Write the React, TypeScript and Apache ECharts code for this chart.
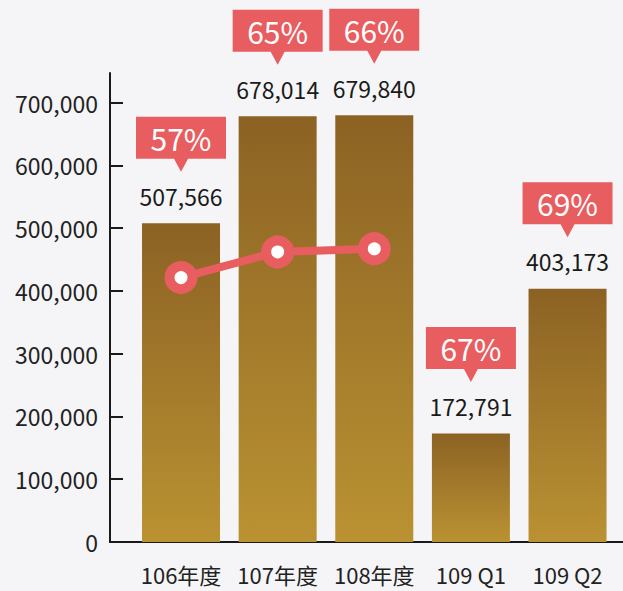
import React, { useEffect, useRef } from "react";
import * as echarts from "echarts";

const categories = ["106年度", "107年度", "108年度", "109 Q1", "109 Q2"];
const amounts = [507566, 678014, 679840, 172791, 403173];
const percents = [57, 65, 66, 67, 69];
const lineCount = 3; // the trend line covers the three full years
const yTicks = [0, 100000, 200000, 300000, 400000, 500000, 600000, 700000];

const RED = "#E85D5F";
const FONT = "'Noto Sans CJK TC', 'Noto Sans', sans-serif";

export default function App() {
  const ref = useRef<HTMLDivElement>(null);
  useEffect(() => {
    document.body.style.margin = "0";
    const chart = echarts.init(ref.current!, null, { renderer: "svg" });
    const fmt = (v: number) => v.toLocaleString("en-US");
    chart.setOption({
      animation: false,
      backgroundColor: "#F5F5F7",
      textStyle: { fontFamily: FONT },
      grid: { left: 110, right: 0, top: 73, bottom: 49 },
      xAxis: {
        type: "value",
        min: -0.735,
        max: 4.574,
        axisLine: { show: true, onZero: false, lineStyle: { color: "#1a1a1a", width: 2 } },
        axisTick: { show: false },
        splitLine: { show: false },
        axisLabel: {
          customValues: categories.map((_, i) => i),
          formatter: (v: number) => categories[Math.round(v)] ?? "",
          fontSize: 22,
          color: "#222",
          margin: 21,
          fontFamily: FONT,
        },
      },
      yAxis: [
        {
          type: "value",
          min: 0,
          max: 747000,
          axisLine: { show: true, onZero: false, lineStyle: { color: "#1a1a1a", width: 2 } },
          axisTick: {
            show: true,
            inside: true,
            length: 13,
            lineStyle: { color: "#1a1a1a", width: 2 },
            customValues: yTicks,
          },
          splitLine: { show: false },
          axisLabel: {
            customValues: yTicks,
            formatter: (v: number) => fmt(v),
            fontSize: 23,
            color: "#222",
            margin: 12,
            fontFamily: FONT,
          },
        },
        { type: "value", min: -25.6, max: 120.9, show: false },
      ],
      series: [
        {
          type: "bar",
          barWidth: 78,
          data: amounts.map((v, i) => [i, v]),
          itemStyle: {
            color: new echarts.graphic.LinearGradient(0, 0, 0, 1, [
              { offset: 0, color: "#8C6224" },
              { offset: 1, color: "#BA9232" },
            ]),
          },
          label: {
            show: true,
            position: "top",
            distance: 16,
            formatter: (p: any) => fmt(p.value[1]),
            fontSize: 23,
            lineHeight: 23,
            color: "#1a1a1a",
            fontFamily: FONT,
          },
          z: 2,
        },
        {
          type: "scatter",
          data: amounts.map((v, i) => [i, v, percents[i]]),
          symbol: "path://M0,0H90V42H52L45,55L38,42H0Z",
          symbolSize: [90, 55],
          symbolOffset: [0, -79],
          itemStyle: { color: RED, opacity: 1 },
          label: {
            show: true,
            position: "inside",
            offset: [0, -6.5],
            formatter: (p: any) => p.value[2] + "%",
            fontSize: 30,
            color: "#fff",
            fontFamily: FONT,
          },
          z: 5,
        },
        {
          type: "line",
          yAxisIndex: 1,
          data: percents.slice(0, lineCount).map((v, i) => [i, v]),
          lineStyle: { color: RED, width: 8 },
          symbol: "circle",
          symbolSize: 23,
          itemStyle: { color: "#fff", borderColor: RED, borderWidth: 10 },
          z: 4,
        },
      ],
    });
    return () => chart.dispose();
  }, []);
  return <div ref={ref} style={{ position: "fixed", left: 0, top: 0, width: 623, height: 591 }} />;
}
